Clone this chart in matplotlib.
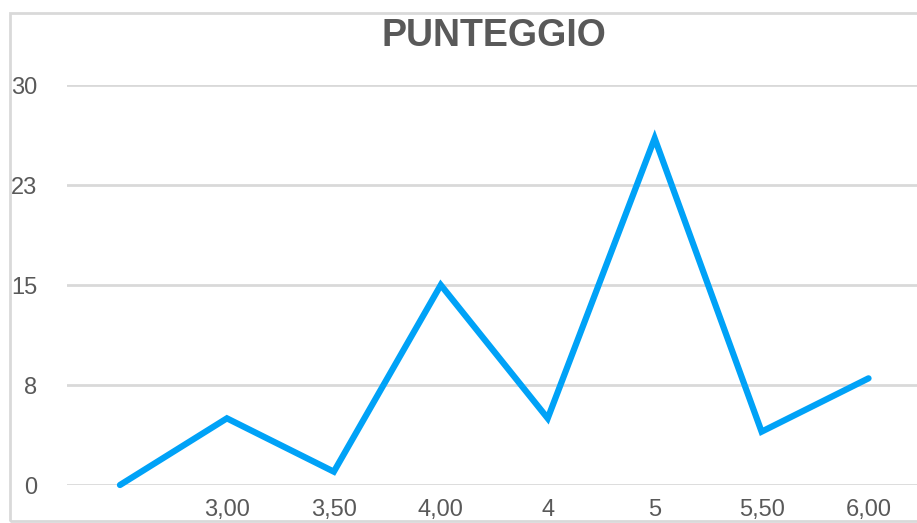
import matplotlib.pyplot as plt
from matplotlib.patches import Rectangle

# dati del grafico
categorie = ["", "3,00", "3,50", "4,00", "4", "5", "5,50", "6,00"]
punteggio = [0, 5, 1, 15, 5, 26, 4, 8]
y_ticks = [0, 7.5, 15, 22.5, 30]
y_labels = ["0", "8", "15", "23", "30"]

W, H = 917, 523
fig = plt.figure(figsize=(W / 100, H / 100), dpi=100)
plt.rcParams["font.family"] = ["Liberation Sans", "DejaVu Sans"]

# cornice grigia del grafico
fig.patches.append(
    Rectangle((9.5 / W, 2.5 / H), 1.2, (H - 13 - 2.5) / H,
              transform=fig.transFigure, fill=False,
              edgecolor="#d9d9d9", linewidth=2)
)

ax = fig.add_axes([66.5 / W, 38 / H, (922 - 66.5) / W, 400 / H])
x = list(range(len(categorie)))
ax.plot(x, punteggio, color="#00a2f7", linewidth=4.5,
        solid_joinstyle="miter", solid_capstyle="round", zorder=3,
        clip_on=False)

ax.set_xlim(-0.5, len(categorie) - 0.5)
ax.set_ylim(0, 30)
ax.set_yticks(y_ticks)
ax.set_yticklabels(y_labels)
ax.set_xticks(x)
ax.set_xticklabels(categorie)
ax.tick_params(axis="both", length=0, labelsize=17, labelcolor="#595959")
ax.tick_params(axis="y", pad=21)
ax.tick_params(axis="x", pad=10)
ax.grid(axis="y", color="#d9d9d9", linewidth=2)
ax.set_axisbelow(True)
for s in ax.spines.values():
    s.set_visible(False)

fig.text(494 / W, 1 - 36 / H, "PUNTEGGIO", ha="center", va="center",
         fontsize=27, fontweight="bold", color="#595959")

plt.savefig("out.png", dpi=100)
